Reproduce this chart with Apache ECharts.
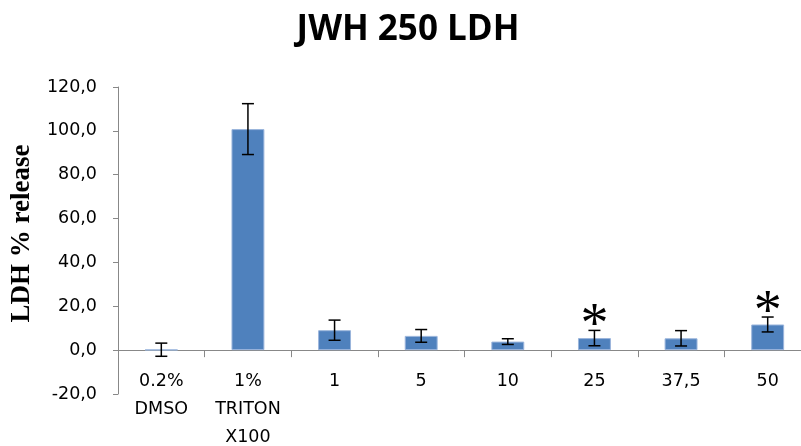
<!DOCTYPE html>
<html><head><meta charset="utf-8">
<script src="https://cdn.jsdelivr.net/npm/echarts@6/dist/echarts.min.js"></script>
<style>html,body{margin:0;padding:0;background:#fff}#c{width:801px;height:446px}</style>
</head><body><div id="c"></div>
<script>
var categories = ['0.2%\nDMSO', '1%\nTRITON\nX100', '1', '5', '10', '25', '37,5', '50'];
var values = [0.2, 100.8, 9.1, 6.5, 3.9, 5.5, 5.4, 11.7];
var errors = [3.0, 11.6, 4.6, 2.9, 1.3, 3.5, 3.5, 3.4];
var significant = [0, 0, 0, 0, 0, 1, 0, 1];
var yTicks = [-20, 0, 20, 40, 60, 80, 100, 120];

var chart = echarts.init(document.getElementById('c'));
var errData = categories.map(function (c, i) { return [i, values[i], errors[i], significant[i]]; });

chart.setOption({
  animation: false,
  title: {
    text: 'JWH 250 LDH', left: 403, top: 8, textAlign: 'center',
    textStyle: { fontFamily: 'Open Sans', fontWeight: 'bold', fontSize: 35, color: '#000' }
  },
  grid: { left: 118, right: -10, top: 87, bottom: 52, containLabel: false, outerBoundsMode: 'none' },
  xAxis: {
    type: 'category', data: categories,
    axisLine: { onZero: true, lineStyle: { color: '#888', width: 1 } },
    axisTick: { show: true, length: 7, lineStyle: { color: '#888' } },
    axisLabel: { margin: -27, fontFamily: 'DejaVu Sans', fontSize: 17.5, color: '#000', lineHeight: 28, interval: 0, verticalAlign: 'top' }
  },
  yAxis: {
    type: 'value', min: yTicks[0], max: yTicks[yTicks.length - 1], interval: 20,
    name: 'LDH % release', nameLocation: 'middle', nameGap: 74,
    nameTextStyle: { fontFamily: 'Liberation Serif', fontWeight: 'bold', fontSize: 27, color: '#000', padding: [0, 0, 0, 14] },
    axisLine: { show: true, lineStyle: { color: '#888' } },
    axisTick: { show: true, length: 5, lineStyle: { color: '#888' } },
    splitLine: { show: false },
    axisLabel: {
      margin: 21, fontFamily: 'DejaVu Sans', fontSize: 17.5, color: '#000',
      formatter: function (v) { return v.toFixed(1).replace('.', ','); }
    }
  },
  series: [{
    type: 'bar', data: values, barWidth: '38%',
    itemStyle: { color: '#4F81BD', borderColor: '#9bb5dc', borderWidth: 1 }
  }, {
    type: 'custom', data: errData, z: 10,
    renderItem: function (params, api) {
      var i = api.value(0), v = api.value(1), e = api.value(2), s = api.value(3);
      var top = api.coord([i, v + e]), bot = api.coord([i, v - e]);
      var x = top[0], hw = 6;
      var st = { stroke: '#000', lineWidth: 1.5 };
      var children = [
        { type: 'line', shape: { x1: x, y1: top[1], x2: x, y2: bot[1] }, style: st },
        { type: 'line', shape: { x1: x - hw, y1: top[1], x2: x + hw, y2: top[1] }, style: st },
        { type: 'line', shape: { x1: x - hw, y1: bot[1], x2: x + hw, y2: bot[1] }, style: st }
      ];
      if (s) {
        children.push({
          type: 'text', style: {
            text: '*', x: x, y: top[1] - 3, align: 'center', verticalAlign: 'middle',
            font: '56px "Liberation Serif"', fill: '#000'
          }
        });
      }
      return { type: 'group', children: children };
    }
  }]
});
</script></body></html>
